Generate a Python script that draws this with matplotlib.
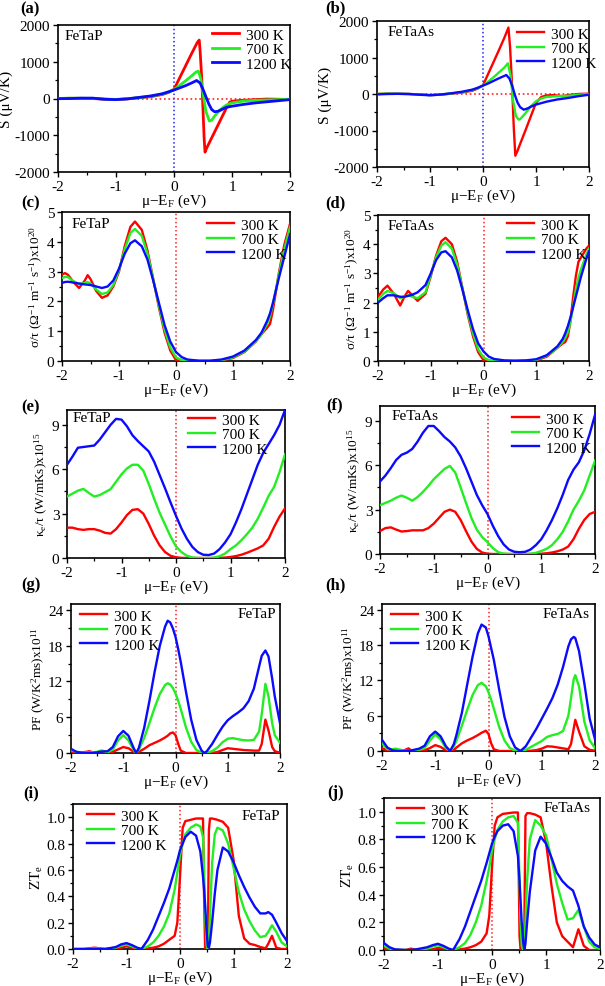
import matplotlib
matplotlib.use("Agg")
import matplotlib.pyplot as plt
from matplotlib.ticker import MultipleLocator

plt.rcParams['font.family'] = ['Liberation Serif', 'DejaVu Serif']
plt.rcParams['mathtext.fontset'] = 'custom'
plt.rcParams['mathtext.rm'] = 'Liberation Serif'
plt.rcParams['mathtext.it'] = 'Liberation Serif:italic'
plt.rcParams['mathtext.bf'] = 'Liberation Serif:bold'
plt.rcParams['axes.unicode_minus'] = False

temps = ['300 K', '700 K', '1200 K']
colors = ['#ff0000', '#22ee22', '#0a0aff']

# ---------------- (a) S, FeTaP ----------------
a_x_300 = [-2, -1.8, -1.6, -1.4, -1.2, -1.0, -0.8, -0.6, -0.4, -0.2, -0.1, 0, 0.1, 0.2, 0.3, 0.4, 0.435,
           0.45, 0.48, 0.5, 0.52, 0.535, 0.56, 0.6, 0.7, 0.8, 0.9, 0.96, 1.0, 1.1, 1.2, 1.4, 1.6, 1.8, 2.0]
a_y_300 = [0, 5, 5, 0, -20, -30, -10, 20, 50, 110, 160, 250, 570, 890, 1210, 1520, 1590,
           1300, 500, -300, -1100, -1460, -1360, -1230, -910, -590, -270, -100, -75, -60, -50, -30, -15, -20, -25]
a_x_700 = [-2, -1.8, -1.6, -1.4, -1.2, -1.0, -0.8, -0.6, -0.4, -0.2, -0.1, 0, 0.1, 0.2, 0.3, 0.38, 0.42,
           0.46, 0.5, 0.55, 0.61, 0.65, 0.7, 0.8, 0.9, 1.0, 1.2, 1.4, 1.6, 1.8, 2.0]
a_y_700 = [0, 10, 5, 5, -15, -25, -5, 25, 60, 120, 170, 240, 360, 480, 610, 720, 745,
           550, 150, -350, -615, -590, -480, -300, -180, -120, -70, -50, -40, -30, -20]
a_x_1200 = [-2, -1.8, -1.6, -1.4, -1.2, -1.0, -0.8, -0.6, -0.4, -0.2, -0.1, 0, 0.1, 0.2, 0.3, 0.39, 0.45,
            0.5, 0.55, 0.6, 0.65, 0.7, 0.75, 0.8, 0.9, 1.0, 1.2, 1.4, 1.6, 1.8, 2.0]
a_y_1200 = [-5, 0, 10, 10, -20, -30, -10, 30, 70, 130, 180, 230, 290, 350, 420, 490, 420,
            250, 50, -150, -300, -360, -350, -320, -240, -210, -160, -120, -90, -60, -30]

# ---------------- (b) S, FeTaAs ----------------
b_x_300 = [-2, -1.8, -1.6, -1.4, -1.2, -1.0, -0.8, -0.6, -0.4, -0.2, -0.1, 0, 0.1, 0.2, 0.3, 0.4, 0.48,
           0.51, 0.55, 0.58, 0.61, 0.65, 0.7, 0.8, 0.9, 1.0, 1.1, 1.2, 1.3, 1.4, 1.5, 1.6, 1.8, 2.0]
b_y_300 = [0, 10, 5, 0, -10, -30, -20, 10, 40, 90, 150, 240, 560, 880, 1200, 1530, 1820,
           1300, 200, -900, -1690, -1560, -1370, -1000, -620, -240, -80, -40, -30, -40, -60, -30, 0, 10]
b_x_700 = [-2, -1.8, -1.6, -1.4, -1.2, -1.0, -0.8, -0.6, -0.4, -0.2, -0.1, 0, 0.1, 0.2, 0.3, 0.4, 0.47,
           0.52, 0.57, 0.62, 0.67, 0.7, 0.8, 0.9, 1.0, 1.1, 1.2, 1.4, 1.6, 1.8, 2.0]
b_y_700 = [0, 10, 5, 0, -15, -30, -15, 15, 50, 110, 160, 230, 340, 460, 590, 720, 840,
           500, -200, -600, -700, -690, -530, -340, -200, -120, -80, -60, -50, -20, 0]
b_x_1200 = [-2, -1.8, -1.6, -1.4, -1.2, -1.0, -0.8, -0.6, -0.4, -0.2, -0.1, 0, 0.1, 0.2, 0.3, 0.44, 0.5,
            0.55, 0.6, 0.65, 0.7, 0.77, 0.85, 0.9, 1.0, 1.2, 1.4, 1.6, 1.8, 2.0]
b_y_1200 = [-10, 0, 5, 0, -20, -35, -15, 20, 60, 120, 170, 230, 290, 360, 430, 520, 420,
            230, -20, -230, -360, -430, -390, -350, -290, -210, -150, -110, -60, -20]

# ---------------- (c) sigma/tau, FeTaP ----------------
c_x = [-2, -1.95, -1.9, -1.85, -1.8, -1.7, -1.6, -1.55, -1.5, -1.4, -1.3, -1.2, -1.1, -1.0, -0.9, -0.8, -0.72,
       -0.6, -0.5, -0.4, -0.3, -0.2, -0.1, 0, 0.1, 0.2, 0.4, 0.6, 0.8, 1.0, 1.2, 1.4, 1.5, 1.6, 1.65, 1.7,
       1.8, 1.9, 2.0]
c_y_300 = [2.9, 2.95, 2.9, 2.78, 2.65, 2.45, 2.7, 2.88, 2.75, 2.35, 2.12, 2.2, 2.5, 3.0, 3.85, 4.5, 4.68,
           4.4, 3.7, 2.75, 1.8, 0.95, 0.35, 0.03, 0.0, 0.0, 0.0, 0.0, 0.02, 0.1, 0.3, 0.65, 0.9, 1.12, 1.25, 1.7,
           2.9, 3.9, 4.6]
c_y_700 = [2.78, 2.82, 2.82, 2.75, 2.68, 2.58, 2.62, 2.65, 2.6, 2.4, 2.25, 2.3, 2.55, 3.05, 3.75, 4.3, 4.43,
           4.2, 3.6, 2.75, 1.85, 1.05, 0.45, 0.12, 0.03, 0.01, 0.0, 0.0, 0.03, 0.12, 0.32, 0.65, 0.9, 1.25, 1.5, 1.9,
           2.85, 3.75, 4.5]
c_y_1200 = [2.62, 2.65, 2.66, 2.65, 2.63, 2.6, 2.57, 2.56, 2.55, 2.5, 2.45, 2.5, 2.7, 3.1, 3.6, 3.95, 4.05,
            3.85, 3.4, 2.7, 1.95, 1.2, 0.65, 0.3, 0.13, 0.05, 0.01, 0.01, 0.05, 0.15, 0.35, 0.7, 0.95, 1.35, 1.6,
            1.95, 2.75, 3.5, 4.25]

# ---------------- (d) sigma/tau, FeTaAs ----------------
d_x = [-2, -1.9, -1.82, -1.7, -1.58, -1.5, -1.43, -1.35, -1.25, -1.1, -1.0, -0.9, -0.8, -0.72, -0.6, -0.5,
       -0.4, -0.3, -0.2, -0.1, 0, 0.1, 0.2, 0.4, 0.6, 0.8, 1.0, 1.2, 1.4, 1.5, 1.55, 1.6, 1.65, 1.7, 1.75, 1.8,
       1.85, 1.9, 1.95, 2.0]
d_y_300 = [2.2, 2.45, 2.58, 2.3, 1.9, 2.2, 2.4, 2.25, 2.06, 2.3, 2.9, 3.6, 4.1, 4.22, 4.0, 3.4,
           2.5, 1.6, 0.85, 0.3, 0.03, 0.0, 0.0, 0.0, 0.0, 0.0, 0.02, 0.15, 0.45, 0.6, 0.65, 0.85, 1.4, 2.2, 2.9,
           3.4, 3.55, 3.7, 3.85, 3.95]
d_y_700 = [2.1, 2.3, 2.4, 2.32, 2.15, 2.2, 2.25, 2.2, 2.15, 2.35, 2.95, 3.55, 3.95, 4.07, 3.85, 3.3,
           2.5, 1.65, 0.95, 0.4, 0.12, 0.03, 0.01, 0.0, 0.0, 0.01, 0.04, 0.18, 0.45, 0.65, 0.8, 1.0, 1.35, 1.9,
           2.45, 2.85, 3.15, 3.4, 3.65, 3.85]
d_y_1200 = [2.0, 2.15, 2.25, 2.25, 2.2, 2.2, 2.23, 2.27, 2.35, 2.6, 3.0, 3.45, 3.72, 3.76, 3.55, 3.1,
            2.45, 1.75, 1.1, 0.6, 0.33, 0.15, 0.07, 0.02, 0.01, 0.02, 0.06, 0.2, 0.5, 0.75, 0.95, 1.2, 1.5,
            1.85, 2.2, 2.55, 2.9, 3.2, 3.5, 3.75]

# ---------------- (e), (f) kappa_e/tau ----------------
ef_x = [-2.0, -1.9, -1.8, -1.7, -1.6, -1.5, -1.4, -1.3, -1.2, -1.1, -1.0, -0.9, -0.8, -0.7, -0.6, -0.5,
        -0.4, -0.3, -0.2, -0.1, 0.0, 0.1, 0.2, 0.3, 0.4, 0.5, 0.6, 0.7, 0.8, 0.9, 1.0, 1.1, 1.2, 1.3, 1.4,
        1.5, 1.6, 1.7, 1.8, 1.9, 2.0]
e_y_300 = [2.05, 2.05, 1.95, 1.9, 1.95, 1.95, 1.85, 1.7, 1.65, 1.95, 2.4, 2.9, 3.25, 3.3, 3.0, 2.3,
           1.5, 0.85, 0.4, 0.15, 0.05, 0.01, 0.0, 0.0, 0.0, 0.0, 0.0, 0.0, 0.01, 0.03, 0.07, 0.13, 0.22, 0.35,
           0.5, 0.65, 0.85, 1.3, 2.1, 2.8, 3.35]
e_y_700 = [4.15, 4.35, 4.55, 4.67, 4.4, 4.15, 4.25, 4.45, 4.65, 5.15, 5.65, 6.05, 6.3, 6.3, 5.9, 5.0,
           4.0, 3.05, 2.25, 1.45, 0.78, 0.4, 0.15, 0.04, 0.0, 0.0, 0.0, 0.03, 0.12, 0.3, 0.6, 0.85, 1.2, 1.6,
           2.05, 2.65, 3.4, 4.2, 4.8, 5.8, 7.0]
e_y_1200 = [6.3, 6.85, 7.45, 7.5, 7.55, 7.6, 8.0, 8.5, 9.0, 9.4, 9.35, 8.9, 8.3, 7.9, 7.55, 7.2,
            6.5, 5.6, 4.7, 3.75, 2.85, 2.0, 1.3, 0.75, 0.4, 0.22, 0.2, 0.3, 0.6, 1.05, 1.6, 2.4, 3.3, 4.3,
            5.3, 6.3, 7.1, 7.7, 8.3, 9.0, 10.0]
f_y_300 = [1.55, 1.75, 1.8, 1.65, 1.52, 1.55, 1.6, 1.6, 1.6, 1.75, 2.05, 2.45, 2.85, 3.0, 2.85, 2.3,
           1.55, 0.85, 0.35, 0.1, 0.02, 0.0, 0.0, 0.0, 0.0, 0.0, 0.0, 0.0, 0.0, 0.01, 0.02, 0.05, 0.1, 0.18,
           0.3, 0.5, 1.0, 1.7, 2.3, 2.7, 2.85]
f_y_700 = [3.3, 3.45, 3.6, 3.8, 3.95, 3.8, 3.6, 3.85, 4.2, 4.6, 5.05, 5.4, 5.75, 5.95, 5.5, 4.5,
           3.45, 2.45, 1.65, 1.15, 0.8, 0.4, 0.12, 0.03, 0.0, 0.0, 0.0, 0.0, 0.02, 0.08, 0.2, 0.35, 0.6, 1.0,
           1.5, 2.2, 3.0, 3.6, 4.3, 5.3, 6.3]
f_y_1200 = [4.9, 5.3, 5.8, 6.35, 6.7, 6.85, 7.1, 7.6, 8.2, 8.65, 8.65, 8.3, 7.9, 7.6, 7.2, 6.6,
            5.8, 4.9, 4.0, 3.3, 2.7, 1.9, 1.2, 0.65, 0.3, 0.15, 0.12, 0.15, 0.3, 0.6, 1.0, 1.6, 2.3, 3.1,
            4.0, 5.0, 5.7, 6.2, 7.0, 8.1, 9.4]

# ---------------- (g) PF, FeTaP ----------------
g_x = [-2, -1.9, -1.8, -1.7, -1.65, -1.6, -1.5, -1.45, -1.4, -1.3, -1.2, -1.1, -1.0, -0.9, -0.8, -0.75,
       -0.7, -0.6, -0.5, -0.4, -0.3, -0.2, -0.15, -0.1, -0.05, 0, 0.05, 0.1, 0.2, 0.3, 0.4, 0.5, 0.55, 0.6,
       0.7, 0.8, 0.9, 1.0, 1.1, 1.2, 1.3, 1.4, 1.5, 1.6, 1.65, 1.72, 1.78, 1.85, 1.9, 2.0]
g_y_300 = [0.2, 0.05, 0.1, 0.2, 0.3, 0.15, 0.05, 0.2, 0.35, 0.05, 0.2, 0.6, 1.0, 0.8, 0.2, 0.0,
           0.2, 0.7, 1.3, 1.7, 2.1, 2.6, 2.9, 3.3, 3.45, 3.0, 1.6, 0.4, 0.0, 0.0, 0.0, 0.0, 0.0, 0.0,
           0.02, 0.15, 0.5, 0.8, 0.7, 0.6, 0.5, 0.45, 0.4, 0.4, 1.5, 5.6, 3.8, 1.0, 0.3, 0.05]
g_y_700 = [0.5, 0.2, 0.1, 0.1, 0.1, 0.1, 0.2, 0.35, 0.4, 0.1, 0.6, 2.1, 3.0, 2.1, 0.5, 0.0,
           0.6, 2.5, 5.0, 7.6, 9.9, 11.4, 11.7, 11.5, 10.9, 10.0, 8.8, 7.4, 4.3, 1.9, 0.5, 0.05, 0.0, 0.05,
           0.3, 0.9, 1.8, 2.4, 2.5, 2.3, 2.15, 2.1, 2.2, 3.6, 6.5, 11.6, 9.5, 5.0, 3.0, 1.7]
g_y_1200 = [0.7, 0.2, 0.05, 0.0, 0.0, 0.0, 0.1, 0.2, 0.25, 0.3, 1.0, 2.8, 3.7, 2.9, 0.8, 0.0,
            0.9, 4.2, 8.7, 13.6, 18.0, 21.2, 22.2, 21.9, 20.9, 19.5, 17.5, 15.3, 10.3, 5.6, 2.2, 0.4, 0.0, 0.3,
            1.5, 3.0, 4.4, 5.5, 6.2, 6.8, 7.5, 8.7, 10.8, 14.5, 16.3, 17.2, 16.2, 12.5, 9.5, 5.0]

# ---------------- (h) PF, FeTaAs ----------------
h_x = [-2, -1.9, -1.8, -1.75, -1.7, -1.6, -1.5, -1.45, -1.4, -1.3, -1.2, -1.1, -1.0, -0.9, -0.8, -0.72,
       -0.65, -0.6, -0.5, -0.4, -0.3, -0.2, -0.13, -0.05, 0, 0.05, 0.1, 0.2, 0.3, 0.4, 0.5, 0.6, 0.7, 0.8,
       0.9, 1.0, 1.1, 1.2, 1.3, 1.4, 1.5, 1.55, 1.6, 1.63, 1.7, 1.8, 1.9, 2.0]
h_y_300 = [0.5, 0.1, 0.05, 0.05, 0.05, 0.05, 0.45, 0.05, 0.0, 0.0, 0.1, 0.5, 1.0, 0.7, 0.1, 0.0,
           0.2, 0.6, 1.3, 1.8, 2.2, 2.7, 3.1, 3.45, 2.9, 1.3, 0.3, 0.0, 0.0, 0.0, 0.0, 0.0, 0.0, 0.05,
           0.15, 0.4, 0.8, 0.75, 0.6, 0.45, 0.3, 1.2, 3.8, 5.3, 3.3, 0.8, 0.2, 0.05]
h_y_700 = [1.3, 0.3, 0.3, 0.4, 0.3, 0.1, 0.05, 0.05, 0.1, 0.2, 0.5, 1.8, 2.8, 2.0, 0.5, 0.0,
           0.8, 1.8, 4.3, 7.0, 9.5, 11.2, 11.6, 11.0, 10.0, 8.7, 7.2, 4.1, 1.8, 0.5, 0.05, 0.0, 0.2, 0.7,
           1.2, 1.7, 2.4, 2.7, 2.9, 3.4, 6.0, 9.0, 12.2, 12.9, 11.0, 5.0, 1.8, 0.5]
h_y_1200 = [1.9, 0.6, 0.1, 0.05, 0.0, 0.0, 0.05, 0.1, 0.2, 0.4, 0.9, 2.5, 3.3, 2.5, 0.8, 0.0,
            1.2, 2.8, 6.5, 11.3, 16.0, 20.0, 21.5, 21.0, 19.5, 17.5, 15.5, 10.5, 5.8, 2.5, 0.6, 0.0, 0.8, 2.3,
            3.8, 5.5, 7.2, 9.0, 11.3, 14.3, 17.8, 19.0, 19.4, 19.2, 17.0, 11.5, 5.5, 2.0]

# ---------------- (i) ZTe, FeTaP ----------------
i_x = [-2, -1.8, -1.6, -1.4, -1.2, -1.1, -1.0, -0.9, -0.8, -0.72, -0.6, -0.5, -0.4, -0.3, -0.2, -0.1,
       -0.05, 0, 0.05, 0.1, 0.2, 0.3, 0.38, 0.43, 0.45, 0.47, 0.5, 0.52, 0.54, 0.56, 0.6, 0.65, 0.7, 0.8,
       0.9, 1.0, 1.1, 1.2, 1.3, 1.4, 1.5, 1.6, 1.65, 1.72, 1.8, 1.9, 2.0]
i_y_300 = [0.0, 0.0, 0.01, 0.0, 0.005, 0.01, 0.02, 0.01, 0.0, 0.0, 0.005, 0.01, 0.02, 0.04, 0.07, 0.1,
           0.2, 0.55, 0.92, 0.97, 0.98, 0.99, 0.99, 0.99, 0.4, 0.0, 0.0, 0.0, 0.9, 0.99, 0.99, 0.985, 0.98,
           0.965, 0.92, 0.68, 0.25, 0.08, 0.04, 0.03, 0.015, 0.005, 0.04, 0.1, 0.01, 0.0, 0.0]
i_y_700 = [0.0, 0.0, 0.005, 0.0, 0.01, 0.025, 0.035, 0.02, 0.005, 0.0, 0.02, 0.05, 0.1, 0.17, 0.27, 0.45,
           0.58, 0.71, 0.8, 0.87, 0.92, 0.945, 0.93, 0.85, 0.6, 0.25, 0.02, 0.0, 0.05, 0.25, 0.65, 0.87, 0.92,
           0.9, 0.8, 0.62, 0.43, 0.3, 0.21, 0.14, 0.09, 0.1, 0.13, 0.18, 0.13, 0.05, 0.02]
i_y_1200 = [0.0, 0.0, 0.0, 0.0, 0.015, 0.035, 0.045, 0.03, 0.01, 0.0, 0.07, 0.15, 0.25, 0.35, 0.46, 0.6,
            0.67, 0.75, 0.8, 0.85, 0.89, 0.86, 0.74, 0.55, 0.45, 0.33, 0.12, 0.02, 0.01, 0.05, 0.2, 0.42, 0.6,
            0.77, 0.74, 0.66, 0.56, 0.47, 0.39, 0.32, 0.27, 0.27, 0.28, 0.26, 0.2, 0.12, 0.06]

# ---------------- (j) ZTe, FeTaAs ----------------
j_x = [-2, -1.9, -1.8, -1.6, -1.5, -1.4, -1.2, -1.1, -1.0, -0.9, -0.8, -0.72, -0.6, -0.5, -0.4, -0.3,
       -0.2, -0.1, -0.05, 0, 0.05, 0.1, 0.2, 0.3, 0.4, 0.48, 0.51, 0.53, 0.55, 0.58, 0.6, 0.62, 0.65, 0.7,
       0.8, 0.9, 1.0, 1.1, 1.2, 1.3, 1.4, 1.5, 1.6, 1.7, 1.8, 1.9, 2.0]
j_y_300 = [0.01, 0.0, 0.0, 0.0, 0.01, 0.0, 0.0, 0.005, 0.015, 0.01, 0.0, 0.0, 0.005, 0.01, 0.02, 0.035,
           0.06, 0.12, 0.25, 0.6, 0.9, 0.96, 0.985, 0.99, 0.995, 0.995, 0.1, 0.0, 0.0, 0.0, 0.2, 0.97, 0.99,
           0.99, 0.98, 0.96, 0.78, 0.47, 0.2, 0.1, 0.06, 0.02, 0.15, 0.03, 0.0, 0.0, 0.0]
j_y_700 = [0.03, 0.01, 0.0, 0.0, 0.0, 0.0, 0.01, 0.025, 0.035, 0.02, 0.005, 0.0, 0.02, 0.05, 0.11, 0.2,
           0.32, 0.5, 0.6, 0.72, 0.8, 0.87, 0.93, 0.96, 0.97, 0.92, 0.5, 0.2, 0.03, 0.0, 0.05, 0.2, 0.5,
           0.8, 0.94, 0.9, 0.83, 0.66, 0.48, 0.34, 0.22, 0.23, 0.29, 0.17, 0.06, 0.02, 0.01]
j_y_1200 = [0.05, 0.02, 0.005, 0.0, 0.0, 0.005, 0.02, 0.035, 0.045, 0.03, 0.01, 0.0, 0.08, 0.17, 0.28, 0.39,
            0.5, 0.63, 0.7, 0.77, 0.82, 0.86, 0.9, 0.91, 0.86, 0.68, 0.5, 0.35, 0.2, 0.05, 0.0, 0.05, 0.2,
            0.42, 0.72, 0.82, 0.77, 0.67, 0.56, 0.5, 0.46, 0.43, 0.32, 0.17, 0.09, 0.04, 0.02]

# ---------------- layout ----------------
W, H = 605, 987
fig = plt.figure(figsize=(W / 100, H / 100), dpi=100)


def make_ax(l, t, r, b):
    return fig.add_axes([l / W, 1 - b / H, (r - l) / W, (b - t) / H])


def fx(px):
    return px / W


def fy(py):
    return 1 - py / H


XL = 'μ−E$_{\\rm F}$ (eV)'
YL_S = 'S (μV/K)'
YL_SIG = 'σ/τ (Ω$^{-1}$ m$^{-1}$ s$^{-1}$)x10$^{20}$'
YL_K = 'κ$_{\\rm e}$/τ (W/mKs)x10$^{15}$'
YL_PF = 'PF (W/K$^{2}$ms)x10$^{11}$'
YL_ZT = 'ZT$_{\\rm e}$'

panels = [
    dict(lab='(a)', box=(58, 26, 290, 173), lp=(20, 9), comp='FeTaP', cp=(65, 36), ca='left',
         xs=[a_x_300, a_x_700, a_x_1200], ys=[a_y_300, a_y_700, a_y_1200], legp=(212, 33),
         ylim=(-2000, 2000), maj=1000, mnr=500, yl=YL_S, lw=2.0, vc='#2020ff', hline=True),
    dict(lab='(b)', box=(377, 22, 589, 168), lp=(325, 8), comp='FeTaAs', cp=(388, 32), ca='left',
         xs=[b_x_300, b_x_700, b_x_1200], ys=[b_y_300, b_y_700, b_y_1200], legp=(517, 32),
         ylim=(-2000, 2000), maj=1000, mnr=500, yl=YL_S, lw=1.7, vc='#2020ff', hline=True),
    dict(lab='(c)', box=(62, 213, 290, 362), lp=(21, 203), comp='FeTaP', cp=(72, 224), ca='left',
         xs=[c_x] * 3, ys=[c_y_300, c_y_700, c_y_1200], legp=(207, 223),
         ylim=(0, 5), maj=1, mnr=0.5, yl=YL_SIG, lw=1.7, vc='#ff2020', hline=False),
    dict(lab='(d)', box=(378, 216, 589, 362), lp=(325, 203), comp='FeTaAs', cp=(388, 227), ca='left',
         xs=[d_x] * 3, ys=[d_y_300, d_y_700, d_y_1200], legp=(507, 223),
         ylim=(0, 5), maj=1, mnr=0.5, yl=YL_SIG, lw=1.7, vc='#ff2020', hline=False),
    dict(lab='(e)', box=(67, 411, 285, 559), lp=(21, 407), comp='FeTaP', cp=(73, 419), ca='left',
         xs=[ef_x] * 3, ys=[e_y_300, e_y_700, e_y_1200], legp=(188, 418),
         ylim=(0, 10), maj=3, mnr=1.5, yl=YL_K, lw=1.7, vc='#ff2020', hline=False),
    dict(lab='(f)', box=(380, 407, 595, 555), lp=(326, 405), comp='FeTaAs', cp=(392, 417), ca='left',
         xs=[ef_x] * 3, ys=[f_y_300, f_y_700, f_y_1200], legp=(512, 417),
         ylim=(0, 10), maj=3, mnr=1.5, yl=YL_K, lw=1.7, vc='#ff2020', hline=False),
    dict(lab='(g)', box=(71, 605, 280, 754), lp=(21, 585), comp='FeTaP', cp=(276, 614), ca='right',
         xs=[g_x] * 3, ys=[g_y_300, g_y_700, g_y_1200], legp=(80, 614),
         ylim=(0, 25), maj=6, mnr=3, yl=YL_PF, lw=1.7, vc='#ff2020', hline=False),
    dict(lab='(h)', box=(382, 605, 595, 752), lp=(325, 585), comp='FeTaAs', cp=(590, 614), ca='right',
         xs=[h_x] * 3, ys=[h_y_300, h_y_700, h_y_1200], legp=(391, 614),
         ylim=(0, 25), maj=6, mnr=3, yl=YL_PF, lw=1.7, vc='#ff2020', hline=False),
    dict(lab='(i)', box=(73, 805, 287, 950), lp=(23, 793), comp='FeTaP', cp=(280, 817), ca='right',
         xs=[i_x] * 3, ys=[i_y_300, i_y_700, i_y_1200], legp=(87, 814),
         ylim=(0, 1.1), maj=0.2, mnr=0.1, yl=YL_ZT, lw=1.7, vc='#ff2020', hline=False),
    dict(lab='(j)', box=(384, 799, 600, 951), lp=(327, 793), comp='FeTaAs', cp=(591, 808), ca='right',
         xs=[j_x] * 3, ys=[j_y_300, j_y_700, j_y_1200], legp=(397, 808),
         ylim=(0, 1.1), maj=0.2, mnr=0.1, yl=YL_ZT, lw=1.7, vc='#ff2020', hline=False),
]

FS = 11
for p in panels:
    ax = make_ax(*p['box'])
    for xs, ys, c, t in zip(p['xs'], p['ys'], colors, temps):
        ax.plot(xs, ys, color=c, lw=p['lw'], label=t, zorder=3, solid_joinstyle='round')
    ax.axvline(0, color=p['vc'], ls=':', lw=1.1, zorder=2)
    if p['hline']:
        ax.axhline(0, color='#ff2020', ls=':', lw=1.2, zorder=2)
    ax.set_xlim(-2, 2)
    ax.set_ylim(*p['ylim'])
    ax.xaxis.set_major_locator(MultipleLocator(1))
    ax.xaxis.set_minor_locator(MultipleLocator(0.5))
    ax.yaxis.set_major_locator(MultipleLocator(p['maj']))
    ax.yaxis.set_minor_locator(MultipleLocator(p['mnr']))
    if p['maj'] < 1:
        ax.yaxis.set_major_formatter(plt.FormatStrFormatter('%.1f'))
    ax.tick_params(which='both', direction='out', top=False, right=False, labelsize=FS, pad=2)
    ax.tick_params(which='major', length=3.5, width=1.0)
    ax.tick_params(which='minor', length=2, width=0.9)
    for s in ax.spines.values():
        s.set_linewidth(1.2)
    ax.set_xlabel(XL, fontsize=FS, labelpad=-1)
    ax.set_ylabel(p['yl'], fontsize=9.5 if len(p['yl']) > 12 else FS, labelpad=1)
    lx, ly = p['legp']
    ax.legend(loc='upper left', bbox_to_anchor=(fx(lx), fy(ly - 4)), bbox_transform=fig.transFigure,
              frameon=False, fontsize=FS, handlelength=1.75, handletextpad=0.5,
              labelspacing=0.05, borderaxespad=0.0, borderpad=0.0)
    fig.text(fx(p['cp'][0]), fy(p['cp'][1]), p['comp'], ha=p['ca'], va='center', fontsize=FS)
    fig.text(fx(p['lp'][0]), fy(p['lp'][1]), p['lab'], ha='left', va='center',
             fontsize=12, fontweight='bold')

fig.savefig('out.png', dpi=100)
